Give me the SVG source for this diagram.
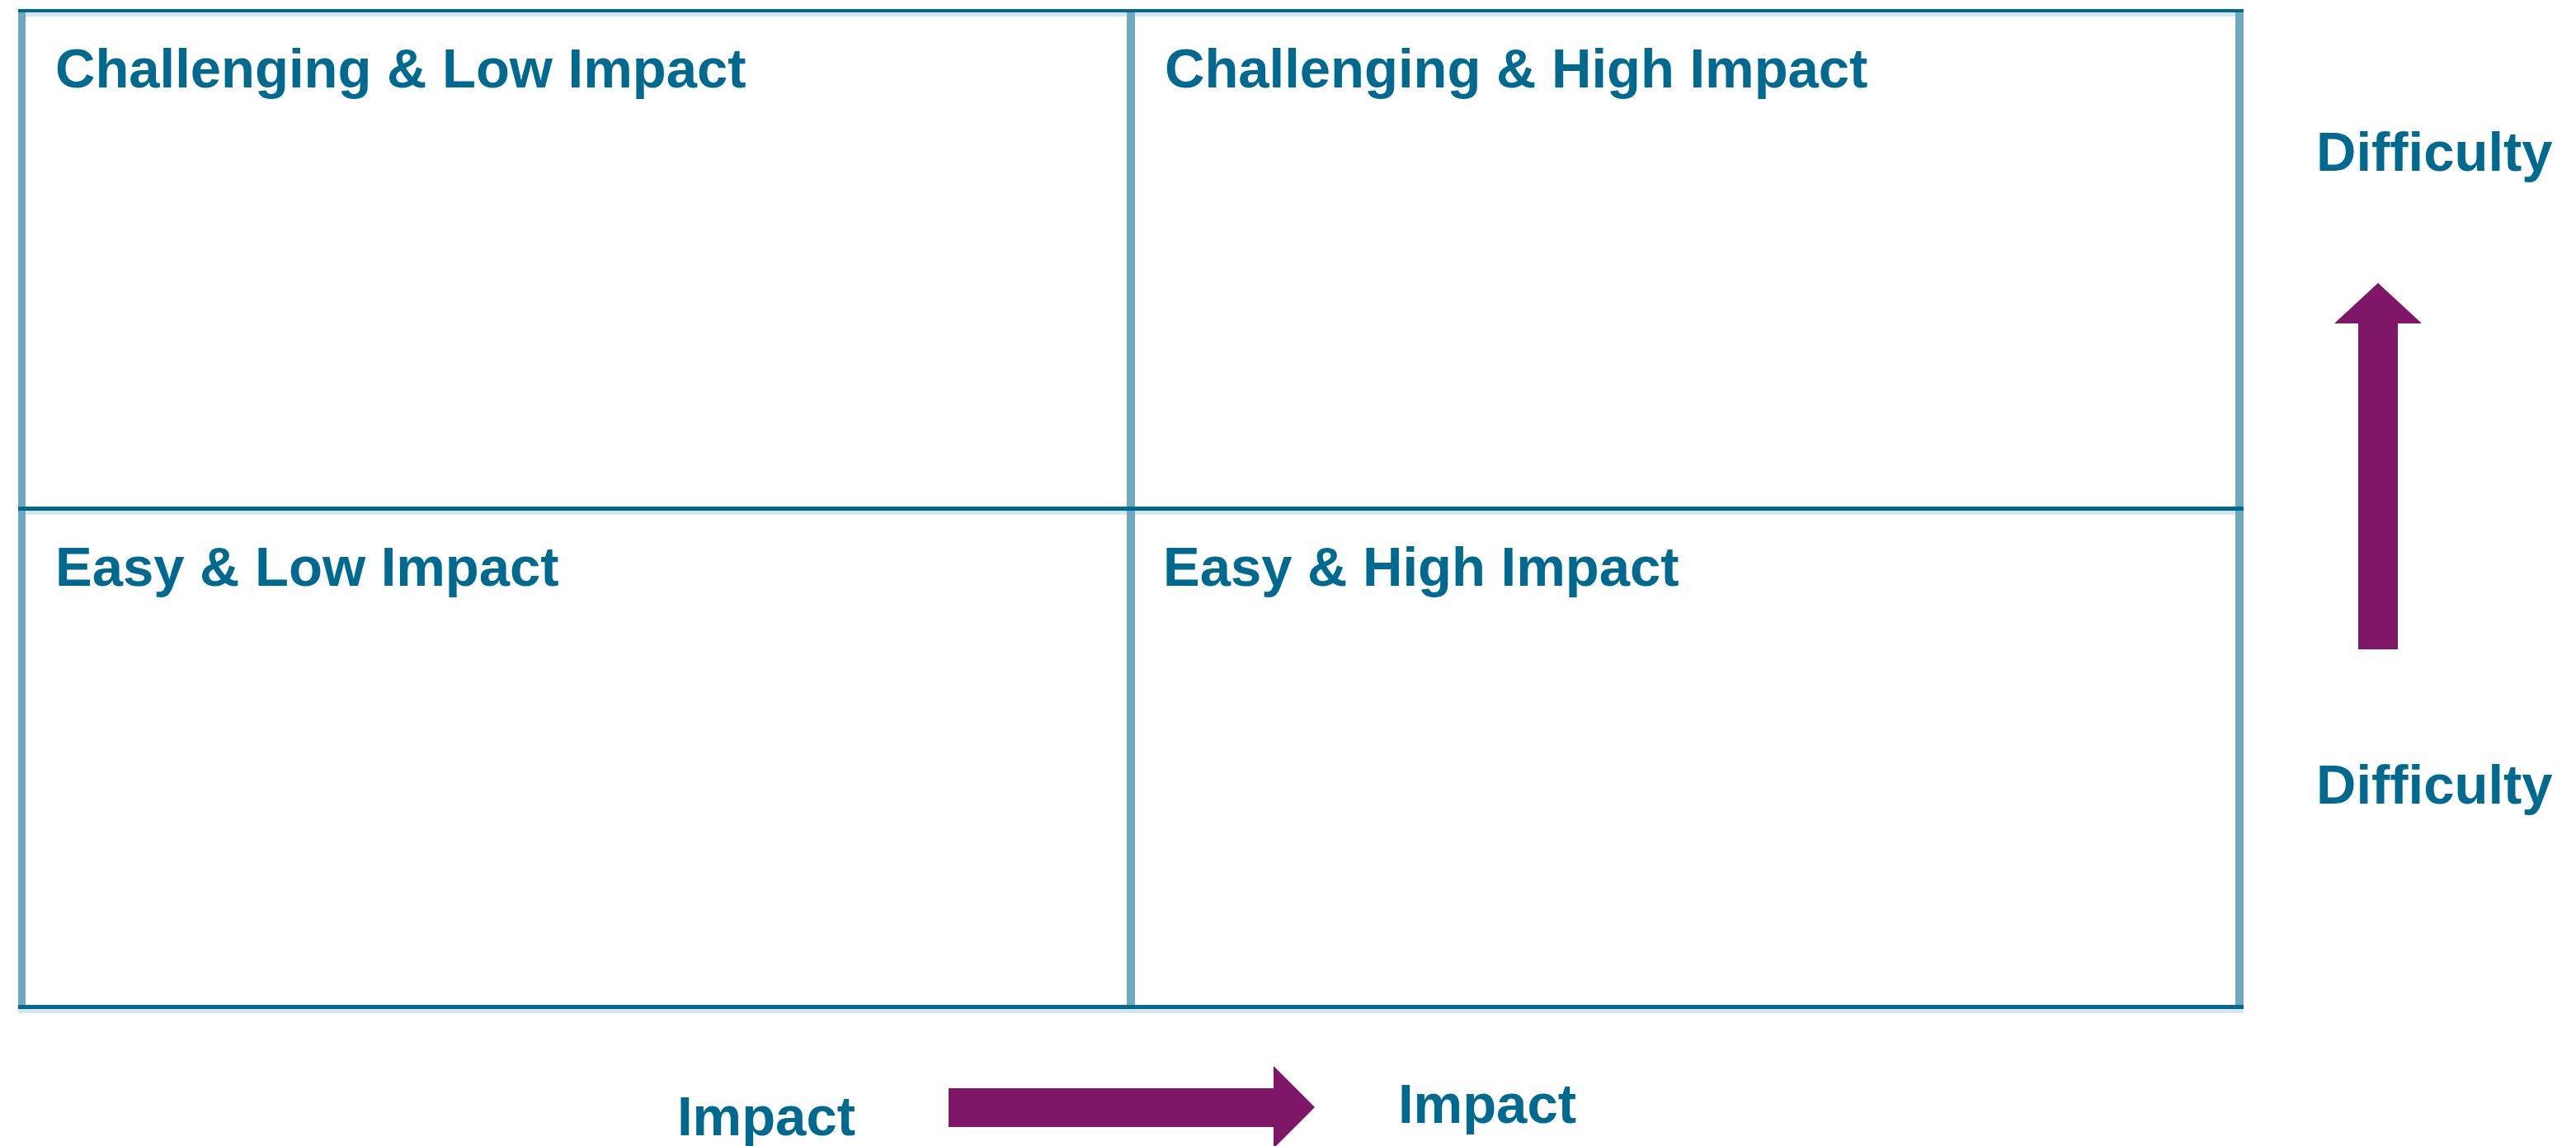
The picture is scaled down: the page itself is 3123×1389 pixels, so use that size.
<svg xmlns="http://www.w3.org/2000/svg" width="3123" height="1389" viewBox="0 0 3123 1389">
<style>
.lbl{font-family:"Liberation Sans",Arial,sans-serif;font-weight:bold;font-size:67px;fill:#00698F}
.hl{fill:#00698F}
.hs{fill:#D5E6ED}
.vl{fill:#6EA9BF}
.arr{fill:#7F1668}
</style>
<rect width="3123" height="1389" fill="#FFFFFF"/>
<g id="grid">
<rect class="hs" x="22" y="15" width="2698" height="5"/>
<rect class="hs" x="22" y="619" width="2698" height="5"/>
<rect class="hs" x="22" y="1223" width="2698" height="5"/>
<rect class="vl" x="22" y="11" width="9" height="1212"/>
<rect class="vl" x="1366" y="11" width="10" height="1212"/>
<rect class="vl" x="2710" y="11" width="10" height="1212"/>
<rect class="hl" x="22" y="11" width="2698" height="4"/>
<rect class="hl" x="22" y="614" width="2698" height="5"/>
<rect class="hl" x="22" y="1218" width="2698" height="5"/>
</g>
<g id="q-challenging-low">
<text class="lbl" x="67" y="106">Challenging &amp; Low Impact</text>
</g>
<g id="q-challenging-high">
<text class="lbl" x="1412" y="106">Challenging &amp; High Impact</text>
</g>
<g id="q-easy-low">
<text class="lbl" x="67" y="710">Easy &amp; Low Impact</text>
</g>
<g id="q-easy-high">
<text class="lbl" x="1410" y="710">Easy &amp; High Impact</text>
</g>
<g id="difficulty-top">
<text class="lbl" x="2808" y="207">Difficulty</text>
</g>
<g id="difficulty-bottom">
<text class="lbl" x="2808" y="974">Difficulty</text>
</g>
<g id="impact-left">
<text class="lbl" x="821" y="1376">Impact</text>
</g>
<g id="impact-right">
<text class="lbl" x="1695" y="1361">Impact</text>
</g>
<g id="connectors">
<path class="arr" d="M2859,787 L2859,392 L2830,392 L2883,343 L2936,392 L2907,392 L2907,787 Z"/>
<path class="arr" d="M1150,1319 L1544,1319 L1544,1292 L1594,1342 L1544,1392 L1544,1366 L1150,1366 Z"/>
</g>
</svg>
